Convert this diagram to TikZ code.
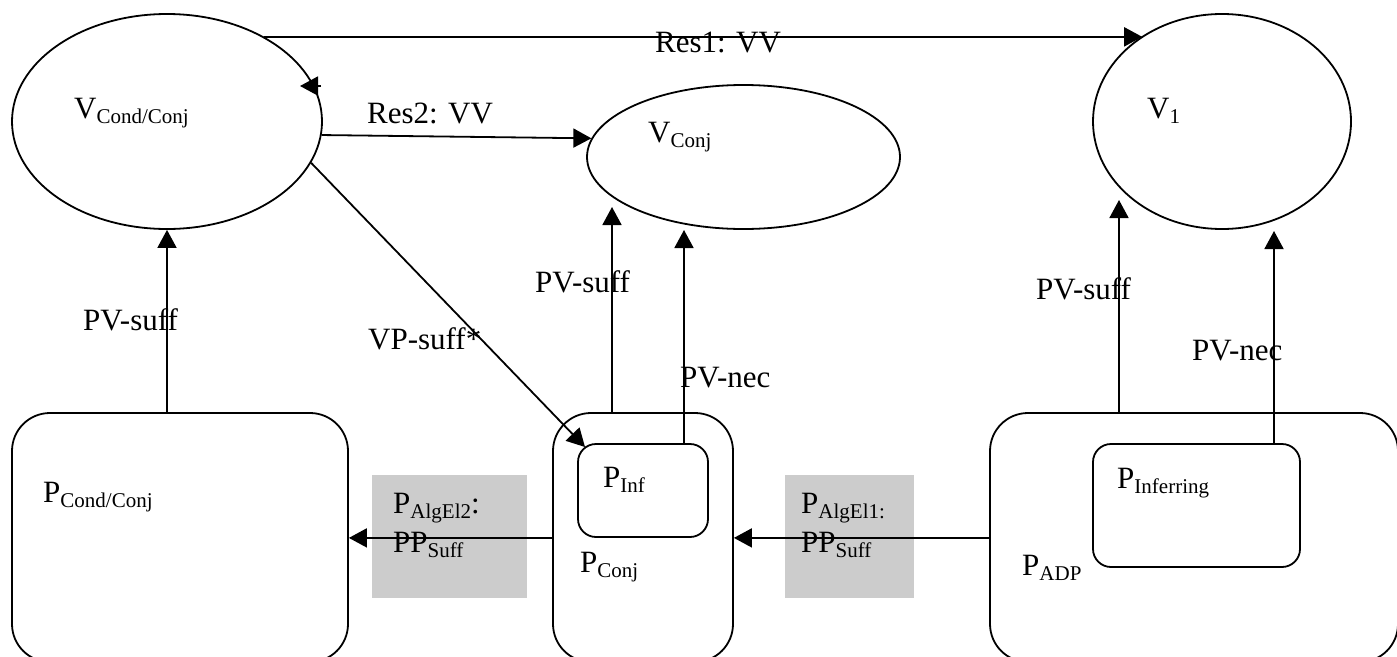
\documentclass[tikz,border=0pt]{standalone}
\usepackage{fontspec}
\setmainfont{Liberation Serif}
\usetikzlibrary{shapes.geometric,arrows.meta}
\definecolor{shade}{RGB}{204,204,204}
\newcommand\sbs[1]{\raisebox{-5pt}{\fontsize{21}{21}\selectfont #1}}
\tikzset{
  conn/.style={line width=1.8pt},
  arr/.style={conn,-{Triangle[length=18pt,width=19pt]}},
  oval/.style={ellipse,draw,line width=1.8pt,inner sep=0pt},
  bigbox/.style={rectangle,draw,line width=1.8pt,rounded corners=38pt,inner sep=0pt},
  smallbox/.style={rectangle,draw,line width=1.8pt,rounded corners=18pt,inner sep=0pt},
  greybox/.style={rectangle,fill=shade,inner sep=0pt},
  txt/.style={anchor=base west,inner sep=0pt,font=\fontsize{31}{36}\selectfont}
}
\begin{document}
\begin{tikzpicture}[x=1pt,y=-1pt]
\useasboundingbox (0,0) rectangle (1397,656);
\clip (0,0) rectangle (1397,656);

% value nodes
\node[oval,minimum width=310pt,minimum height=215pt] (vcc) at (167,121.5) {};
\node[oval,minimum width=313pt,minimum height=144pt] (vconj) at (743.5,157) {};
\node[oval,minimum width=258pt,minimum height=215pt] (v1) at (1222,121.5) {};

% process boxes
\node[bigbox,minimum width=336pt,minimum height=249pt] (pcc) at (180,537.5) {};
\node[bigbox,minimum width=180pt,minimum height=249pt] (pconj) at (643,537.5) {};
\node[bigbox,minimum width=408pt,minimum height=249pt] (padp) at (1194,537.5) {};
\node[smallbox,minimum width=130pt,minimum height=93pt] (pinf) at (643,490.5) {};
\node[smallbox,minimum width=207pt,minimum height=123pt] (pinfer) at (1196.5,505.5) {};

% shaded relation boxes
\node[greybox,minimum width=155pt,minimum height=123pt] (alg2) at (449.5,536.5) {};
\node[greybox,minimum width=129pt,minimum height=123pt] (alg1) at (849.5,536.5) {};

% free ends of connectors
\coordinate (vcnA) at (612,207);
\coordinate (vcnB) at (684,230);
\coordinate (vonA) at (1119,200);
\coordinate (vonB) at (1274,231);
\coordinate (vpend) at (585,447);
\coordinate (tipbase) at (321,86);

% connectors
\draw[arr] (vcc.41.4) -- (vcc.41.4 -| v1.133.6);
\draw[arr] (tipbase) -- ++(-21,0);
\draw[arr] (vcc.-5.8) -- (vconj.173.6);
\draw[arr] (vcc.-16.4) -- (vpend);
\draw[arr] (pcc.north -| vcc.south) -- (vcc.south);
\draw[arr] (pconj.north -| vcnA) -- (vcnA);
\draw[arr] (pinf.north -| vcnB) -- (vcnB);
\draw[arr] (padp.north -| vonA) -- (vonA);
\draw[arr] (pinfer.north -| vonB) -- (vonB);
\draw[arr] (pconj.west |- pinf.south) -- (pcc.east |- pinf.south);
\draw[arr] (padp.west |- pinf.south) -- (pconj.east |- pinf.south);

% texts
\node[txt] (tvcc) at (74,118) {V\sbs{Cond/Conj}};
\node[txt] (tvconj) at (648,142) {V\sbs{Conj}};
\node[txt] (tv1) at (1147,118) {V\sbs{1}};
\node[txt] (tres1) at (655,52) {Res1: VV};
\node[txt] (tres2) at (367,123) {Res2: VV};
\node[txt] (tpvs1) at (83,330) {PV-suff};
\node[txt] (tvps) at (368,349) {VP-suff*};
\node[txt] (tpvs2) at (535,292) {PV-suff};
\node[txt] (tpvn2) at (680,387) {PV-nec};
\node[txt] (tpvs3) at (1036,299) {PV-suff};
\node[txt] (tpvn3) at (1192,360) {PV-nec};
\node[txt] (tpcc) at (43,502) {P\sbs{Cond/Conj}};
\node[txt] (tpinf) at (603,487) {P\sbs{Inf}};
\node[txt] (tpconj) at (580,572) {P\sbs{Conj}};
\node[txt] (tpinfer) at (1117,488) {P\sbs{Inferring}};
\node[txt] (tpadp) at (1022,575) {P\sbs{ADP}};
\node[txt] (talg2a) at (393,513) {P\sbs{AlgEl2}:};
\node[txt] (talg2b) at (393,552) {PP\sbs{Suff}};
\node[txt] (talg1a) at (801,513) {P\sbs{AlgEl1:}};
\node[txt] (talg1b) at (801,552) {PP\sbs{Suff}};
\end{tikzpicture}
\end{document}
